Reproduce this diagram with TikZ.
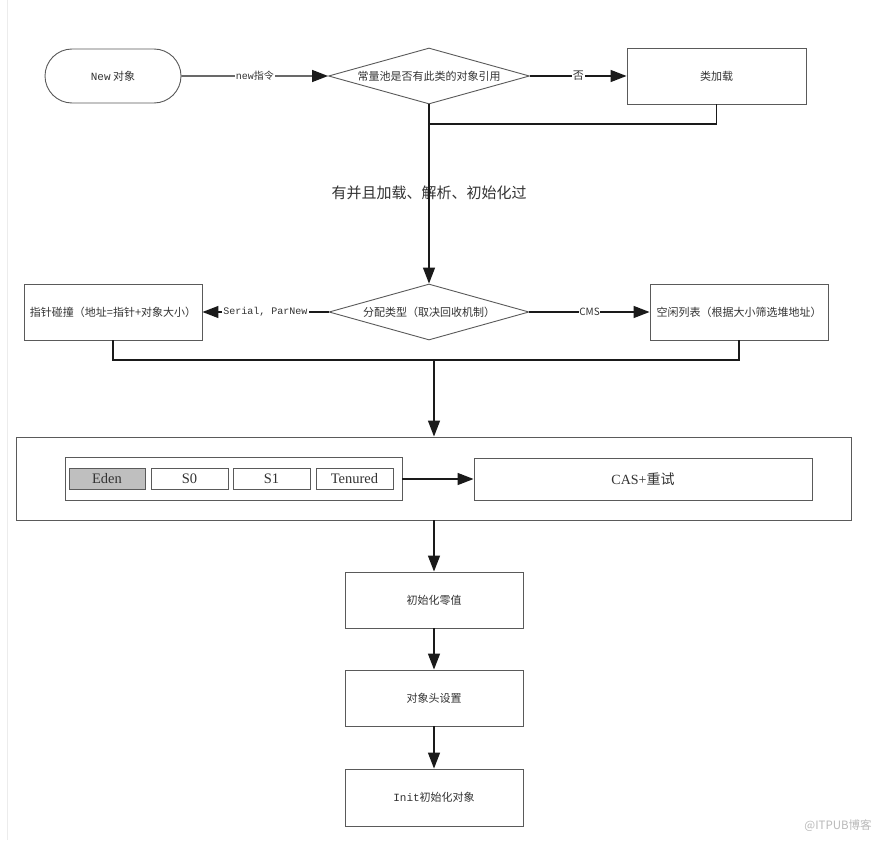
\documentclass[tikz,border=0pt]{standalone}
\usepackage{fontspec}
\setmainfont{Noto Sans CJK SC}
\newfontfamily\monof{Liberation Mono}
\newfontfamily\serf{Liberation Serif}
\usetikzlibrary{shapes.geometric,shapes.misc,arrows.meta}
\definecolor{bord}{HTML}{5a5a5a}
\definecolor{txt}{HTML}{333333}
\definecolor{lnc}{HTML}{1a1a1a}
\begin{document}
\begin{tikzpicture}[x=1pt,y=-1pt,
  box/.style={draw=bord, line width=0.9pt, inner sep=0pt, align=center, text=txt, font=\fontsize{11}{13}\selectfont},
  stadium/.style={box, rounded rectangle},
  dia/.style={box, diamond, aspect=3.6},
  cell/.style={box, minimum width=77pt, minimum height=21pt, font=\serf\fontsize{14.5}{16}\selectfont},
  conn/.style={draw=lnc, line width=1.4pt, -{Triangle[length=16pt,width=12pt]}},
  plain/.style={draw=lnc, line width=1.4pt},
  lab/.style={fill=white, inner sep=1pt, text=txt, font=\fontsize{10}{12}\selectfont}
]
\useasboundingbox (0,0) rectangle (890,840);
\fill[white] (0,0) rectangle (890,840);
\draw[color=gray!15, line width=1pt] (7,0) -- (7,840);

% top row
\node[stadium, minimum width=136pt, minimum height=54pt] (new) at (113,76) {{\monof New} 对象};
\node[dia, minimum width=201pt, minimum height=56pt] (q) at (429,76) {常量池是否有此类的对象引用};
\node[box, minimum width=179pt, minimum height=56pt] (load) at (716.5,76) {类加载};
\coordinate (j1) at (429,124);

\draw[conn] (new) -- node[lab] {{\monof new}指令} (q);
\draw[conn] (q) -- node[lab, font=\fontsize{11}{13}\selectfont] {否} (load);
\draw[plain] (load.south) |- (j1);

\node[text=txt, font=\fontsize{15}{17}\selectfont] (lbl) at (429,193) {有并且加载、解析、初始化过};

% second row
\node[dia, minimum width=200pt, minimum height=56pt] (alloc) at (429,312) {分配类型（取决回收机制）};
\node[box, minimum width=178pt, minimum height=56pt] (bump) at (113,312) {指针碰撞（地址=指针+对象大小）};
\node[box, minimum width=178pt, minimum height=56pt] (free) at (739,312) {空闲列表（根据大小筛选堆地址）};
\draw[conn] (q.south) -- (alloc.north);
\draw[conn] (alloc) -- node[lab] {\monof Serial, ParNew} (bump);
\draw[conn] (alloc) -- node[lab, inner sep=0.5pt] {CMS} (free);

\coordinate (j2) at (434,360);
\draw[plain] (bump.south) |- (free.south |- j2) -- (free.south);

% memory area
\node[box, minimum width=835pt, minimum height=83pt] (outer) at (434,478.5) {};
\node[box, minimum width=337pt, minimum height=43pt] (grp) at (233.5,479) {};
\node[cell, fill=gray!50, minimum width=76pt] (eden) at (107,479) {Eden};
\node[cell] (s0) at (189.5,479) {S0};
\node[cell] (s1) at (271.5,479) {S1};
\node[cell] (ten) at (354.5,479) {Tenured};
\node[box, minimum width=338pt, minimum height=42pt, font=\serf\fontsize{14}{16}\selectfont] (cas) at (643,479) {CAS+{\fontspec{Noto Sans CJK SC}重试}};
\draw[conn] (j2) -- (outer.north);
\draw[conn] (grp.east) -- (cas.west);

% bottom column
\node[box, minimum width=178pt, minimum height=56pt] (zero) at (434,600) {初始化零值};
\node[box, minimum width=178pt, minimum height=56pt] (head) at (434,698) {对象头设置};
\node[box, minimum width=178pt, minimum height=57pt] (init) at (434,797.5) {{\monof Init}初始化对象};
\draw[conn] (outer.south) -- (zero.north);
\draw[conn] (zero.south) -- (head.north);
\draw[conn] (head.south) -- (init.north);

\node[text=gray!55, font=\fontsize{11.5}{13}\selectfont] (wm) at (838,826) {@ITPUB博客};
\end{tikzpicture}
\end{document}
